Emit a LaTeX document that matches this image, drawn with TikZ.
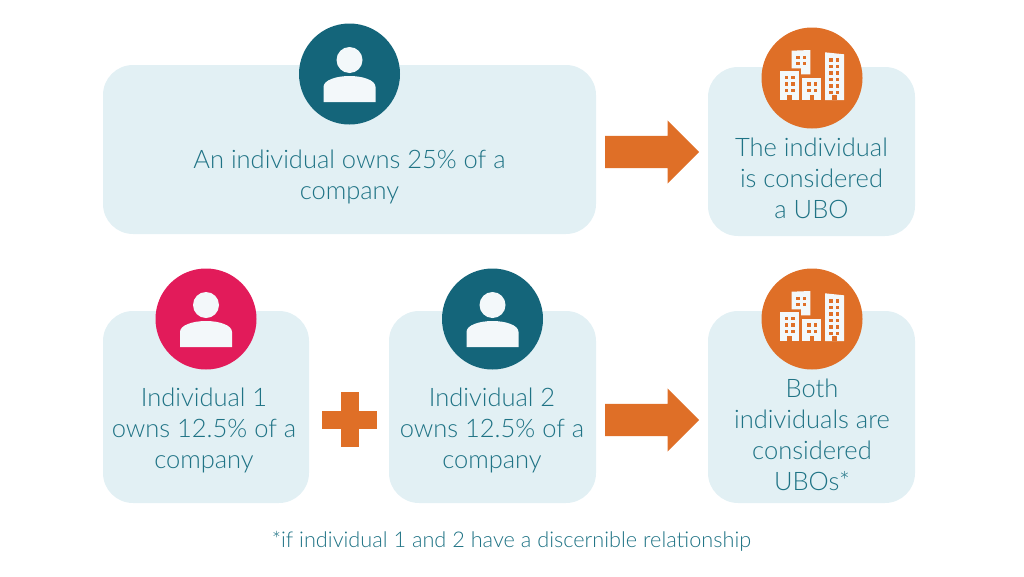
\documentclass[tikz,border=0pt]{standalone}
\usepackage{fontspec}
\setmainfont{Lato}[UprightFont=* Light]
\usetikzlibrary{shapes.arrows}

\definecolor{boxblue}{HTML}{E2F0F4}
\definecolor{darkteal}{HTML}{14657A}
\definecolor{rustorange}{HTML}{DF6F27}
\definecolor{crimson}{HTML}{E21B5A}
\definecolor{labelteal}{HTML}{1F7385}
\definecolor{iconwhite}{HTML}{F3F8FA}

\tikzset{
  panel/.style={fill=boxblue, rounded corners=30pt, minimum width=#1, inner sep=0pt},
  disc/.style={circle, fill=#1, minimum size=101pt, inner sep=0pt},
  label/.style={text=labelteal, align=center, font=\fontsize{25.5}{31}\selectfont},
  bigarrow/.style={single arrow, fill=rustorange, inner sep=0pt, text height=32pt, text depth=0pt,
    minimum height=94pt, single arrow head extend=15.5pt, single arrow tip angle=90, anchor=tail},
  person/.pic={
    \fill[iconwhite] (0,-14) circle (13);
    \fill[iconwhite] (-26,28) -- (-26,13) .. controls (-26,6) and (-13,2) .. (0,2)
      .. controls (13,2) and (26,6) .. (26,13) -- (26,28) -- cycle;
  },
  towers/.pic={
    \fill[iconwhite] (-20.3,-27.3) -- (-1.7,-28) -- (-1.7,-3.7) -- (-11,-3.7) -- (-11,-9.7) -- (-20.3,-9.7) -- cycle;
    \fill[iconwhite] (-32,-7) rectangle (-13,22);
    \fill[iconwhite] (-9.7,0) rectangle (9.3,22);
    \fill[iconwhite] (13,-25.7) -- (32,-23.7) -- (32,22) -- (13,22) -- cycle;
    % windows
    \foreach \x in {-16,-9.5}
      \foreach \y in {-22.5,-16.5}
        \fill[rustorange] (\x,\y) rectangle ++(3.8,3.8);
    \foreach \x in {-27.5,-21}
      \foreach \y in {-2.5,4,10.5}
        \fill[rustorange] (\x,\y) rectangle ++(3.8,3.8);
    \foreach \x in {-5,1.5}
      \foreach \y in {4,10.5}
        \fill[rustorange] (\x,\y) rectangle ++(3.8,3.8);
    \foreach \x in {17,23.5}
      \foreach \y in {-20,-13.5,-7,-0.5,6,12.5}
        \fill[rustorange] (\x,\y) rectangle ++(3.8,3.8);
    % doors
    \fill[rustorange] (-24.7,17) rectangle ++(4.4,5);
    \fill[rustorange] (-2.5,17) rectangle ++(4.4,5);
    \fill[rustorange] (20.3,17) rectangle ++(4.4,5);
  },
}

\begin{document}
\begin{tikzpicture}[x=1pt, y=-1pt]
  \useasboundingbox (0,0) rectangle (1024,576);

  % panels
  \node[panel=493pt, minimum height=169pt] (ownerbox) at (349.5,149.5) {};
  \node[panel=207pt, minimum height=169pt] (resultbox) at (811.5,151.5) {};
  \node[panel=206pt, minimum height=192pt] (firstbox) at (206,407) {};
  \node[panel=207pt, minimum height=192pt] (secondbox) at (492.5,407) {};
  \node[panel=207pt, minimum height=192pt] (bothbox) at (811.5,407) {};

  % discs with icons
  \node[disc=darkteal] (ownerdisc) at (349.5,74) {};
  \pic at (ownerdisc) {person};
  \node[disc=rustorange] (resultdisc) at (812,78) {};
  \pic at (resultdisc) {towers};
  \node[disc=crimson] (firstdisc) at (206,319) {};
  \pic at (firstdisc) {person};
  \node[disc=darkteal] (seconddisc) at (492.5,319) {};
  \pic at (seconddisc) {person};
  \node[disc=rustorange] (bothdisc) at (812,319) {};
  \pic at (bothdisc) {towers};

  % arrows and plus
  \node[bigarrow] (toprow) at (605,152) {};
  \node[bigarrow] (lowrow) at (605,420) {};
  \node[fill=rustorange, inner sep=0pt, minimum width=55pt, minimum height=18pt] (plusbar) at (349.5,419.5) {};
  \node[fill=rustorange, inner sep=0pt, minimum width=18pt, minimum height=55.5pt] (plusstem) at (349.5,419.5) {};

  % texts
  \node[label] (ownertext) at (349.5,176.5) {An individual owns 25\% of a\\company};
  \node[label] (resulttext) at (811.5,178) {The individual\\is considered\\a UBO};
  \node[label] (firsttext) at (204,430) {Individual 1\\owns 12.5\% of a\\company};
  \node[label] (secondtext) at (492,430) {Individual 2\\owns 12.5\% of a\\company};
  \node[label] (bothtext) at (812,435) {Both\\individuals are\\considered\\UBOs*};
  \node[label, font=\fontsize{21.7}{25}\selectfont] (footnote) at (511.5,541.5) {*if individual 1 and 2 have a discernible relationship};
\end{tikzpicture}
\end{document}
